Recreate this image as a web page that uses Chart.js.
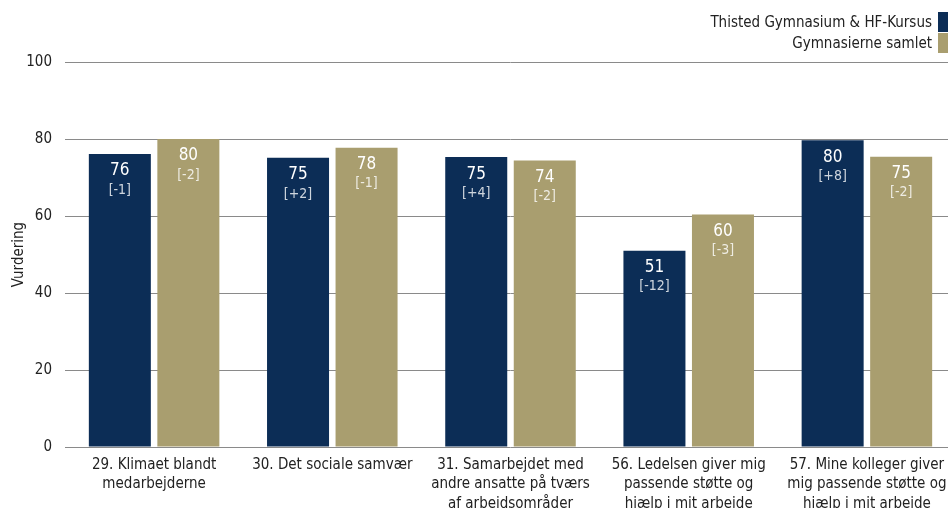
<!DOCTYPE html>
<html>
<head>
<meta charset="utf-8">
<script src="https://cdn.jsdelivr.net/npm/chart.js@4"></script>
<style>
	html, body { margin: 0; padding: 0; overflow: hidden; background: #fff; }
	#wrap { position: absolute; left: 0; top: 0; width: 960px; height: 508px; }
	#legend { position: absolute; right: 2px; top: 11px; font-family: "DejaVu Sans Condensed", "DejaVu Sans", sans-serif; font-size: 15px; color: #222; }
	.item { display: flex; justify-content: flex-end; align-items: center; height: 21px; }
	.box { width: 20px; height: 20px; margin-left: 6px; }
</style>
</head>
<body>
<div id="wrap">
	<canvas id="myChart"></canvas>
	<div id="legend"></div>
</div>
<script>
const categories = [
	["29. Klimaet blandt", "medarbejderne"],
	["30. Det sociale samvær"],
	["31. Samarbejdet med", "andre ansatte på tværs", "af arbejdsområder"],
	["56. Ledelsen giver mig", "passende støtte og", "hjælp i mit arbejde"],
	["57. Mine kolleger giver", "mig passende støtte og", "hjælp i mit arbejde"],
];
const seriesNames = ["Thisted Gymnasium & HF-Kursus", "Gymnasierne samlet"];
const thistedValues = [76.1, 75.1, 75.3, 51.0, 79.7];
const samletValues = [80.0, 77.7, 74.4, 60.4, 75.4];
const thistedDiff = ["-1", "+2", "+4", "-12", "+8"];
const samletDiff = ["-2", "-1", "-2", "-3", "-2"];
const yTicks = [0, 20, 40, 60, 80, 100];

const navy = "#0c2d56";
const khaki = "#a99e6f";
const fontFam = "'DejaVu Sans Condensed', 'DejaVu Sans', sans-serif";

const diffs = [thistedDiff, samletDiff];

const barLabels = {
	id: "barLabels",
	afterDatasetsDraw(chart) {
		const ctx = chart.ctx;
		ctx.save();
		ctx.textAlign = "center";
		ctx.textBaseline = "middle";
		chart.data.datasets.forEach((ds, i) => {
			const meta = chart.getDatasetMeta(i);
			meta.data.forEach((bar, j) => {
				ctx.fillStyle = "#ffffff";
				ctx.font = "17px " + fontFam;
				ctx.fillText(Math.round(ds.data[j]), bar.x, bar.y + 17);
				ctx.fillStyle = "rgba(255,255,255,0.8)";
				ctx.font = "14px " + fontFam;
				ctx.fillText("[" + diffs[i][j] + "]", bar.x, bar.y + 36);
			});
		});
		ctx.restore();
	},
};

const chart = new Chart(document.getElementById("myChart"), {
	type: "bar",
	data: {
		labels: categories,
		datasets: [
			{ label: seriesNames[0], data: thistedValues, backgroundColor: navy },
			{ label: seriesNames[1], data: samletValues, backgroundColor: khaki },
		],
	},
	options: {
		responsive: true,
		maintainAspectRatio: false,
		animation: false,
		datasets: { bar: { categoryPercentage: 0.769, barPercentage: 0.905 } },
		layout: { padding: { top: 62, left: 10, right: 4, bottom: 0 } },
		plugins: {
			legend: { display: false },
			tooltip: { enabled: false },
		},
		scales: {
			x: {
				grid: { display: false },
				border: { display: false },
				ticks: {
					color: "#222",
					font: { family: fontFam, size: 15, lineHeight: 1.3 },
					padding: 0,
					maxRotation: 0,
					autoSkip: false,
				},
				afterFit: (scale) => { scale.height = 61; },
			},
			y: {
				min: 0,
				max: 100,
				afterBuildTicks: (scale) => { scale.ticks = yTicks.map((v) => ({ value: v })); },
				grid: { color: "#8a8a8a", drawTicks: false },
				border: { display: false },
				ticks: {
					color: "#222",
					font: { family: fontFam, size: 15 },
					padding: 13,
				},
				title: {
					display: true,
					text: "Vurdering",
					color: "#222",
					font: { family: fontFam, size: 15 },
					padding: 0,
				},
				afterFit: (scale) => { scale.width = 55; },
			},
		},
	},
	plugins: [barLabels],
});

const legend = document.getElementById("legend");
chart.data.datasets.forEach((ds) => {
	const item = document.createElement("div");
	item.className = "item";
	item.innerHTML = "<span>" + ds.label + "</span><span class='box' style='background:" + ds.backgroundColor + "'></span>";
	legend.appendChild(item);
});
</script>
</body>
</html>
